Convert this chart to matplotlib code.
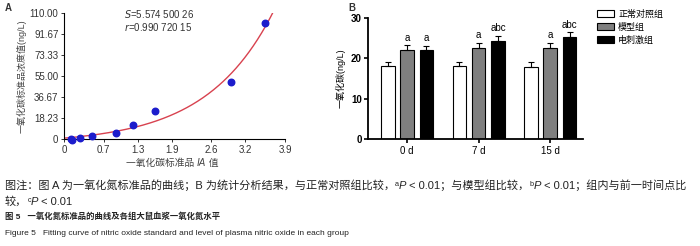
import numpy as np
import matplotlib
matplotlib.use("Agg")
import matplotlib.pyplot as plt

plt.rcParams['font.family'] = ['Liberation Sans', 'DejaVu Sans', 'Noto Sans CJK SC']

# Panel A: standard curve data
std_x = [0.12, 0.15, 0.28, 0.50, 0.92, 1.22, 1.60, 2.95, 3.55]
std_y = [0.0, -0.6, 1.0, 2.2, 5.5, 12.0, 24.5, 50.0, 101.0]
a_xticks = [0, 0.7, 1.3, 1.9, 2.6, 3.2, 3.9]
a_yticks = [0, 18.23, 36.67, 55.00, 73.33, 91.67, 110.00]
a_ylabels = ["0", "18.23", "36.67", "55.00", "73.33", "91.67", "110.00"]

# Panel B: group means / SD
days = ["0 d", "7 d", "15 d"]
groups = ["正常对照组", "模型组", "电刺激组"]
normal = [18.0, 18.0, 17.8]
model = [22.0, 22.6, 22.6]
estim = [22.0, 24.3, 25.4]
normal_sd = [1.2, 1.2, 1.2]
model_sd = [1.2, 1.3, 1.3]
estim_sd = [1.1, 1.3, 1.0]
model_sig = ["a", "a", "a"]
estim_sig = ["a", "abc", "abc"]

W, H = 700, 246
fig = plt.figure(figsize=(7.0, 2.46), dpi=100)
renderer = fig.canvas.get_renderer()


def rich(x, y, parts, fs, ha="left", color="#222222"):
    # draw a line of text made of pieces with different styles (x, y in pixels from top-left)
    texts = []
    widths = []
    for s, kw in parts:
        size = kw.get("size", fs)
        t = fig.text(0, 0, s, fontsize=size, style=kw.get("style", "normal"),
                     fontweight=kw.get("weight", "normal"), color=color, va="baseline")
        widths.append(t.get_window_extent(renderer).width)
        texts.append((t, kw.get("rise", 0)))
    total = sum(widths)
    px = x - total / 2 if ha == "center" else x
    for (t, rise), w in zip(texts, widths):
        t.set_position((px / W, 1 - (y - rise) / H))
        px += w


# ---- panel A
axA = fig.add_axes([0.0914, 0.435, 0.316, 0.512])
# exponential fit y = a*exp(b x) + c, least squares over a grid of b
xs = np.array(std_x); ys = np.array(std_y)
best = None
for b in np.linspace(0.5, 1.5, 1001):
    M = np.column_stack([np.exp(b * xs), np.ones_like(xs)])
    coef = np.linalg.lstsq(M, ys, rcond=None)[0]
    err = np.sum((M @ coef - ys) ** 2)
    if best is None or err < best[0]:
        best = (err, b, coef)
_, bb, cc = best
xx = np.linspace(0, 3.75, 200)
yy = cc[0] * np.exp(bb * xx) + cc[1]
axA.plot(xx, yy, color="#d8424f", lw=1.0, zorder=2)
axA.scatter(std_x, std_y, s=22, color="#1c1ccc", zorder=3, clip_on=False)
axA.set_xlim(0, 3.9)
axA.set_ylim(0, 110)
axA.set_xticks(a_xticks)
axA.set_xticklabels([("%g" % v) for v in a_xticks])
axA.set_yticks(a_yticks)
axA.set_yticklabels(a_ylabels)
for s in ["top", "right"]:
    axA.spines[s].set_visible(False)
axA.tick_params(labelsize=7, length=2.5, width=0.7, pad=1.5, colors="#333333")
axA.spines["left"].set_linewidth(0.8)
axA.spines["bottom"].set_linewidth(0.8)
axA.text(1.05, 106, "$S$=5.574 500 26", fontsize=7, color="#333333")
axA.text(1.05, 94, "$r$=0.990 720 15", fontsize=7, color="#333333")
rich(172, 166, [("一氧化碳标准品 ", {}), ("IA", {"style": "italic"}), (" 值", {})], 7,
     ha="center", color="#444444")
axA.set_ylabel("一氧化碳标准品浓度值(ng/L)", fontsize=6.5, color="#444444", labelpad=2)
fig.text(0.007, 0.955, "A", fontsize=7, fontweight="bold", color="#333333")

# ---- panel B
axB = fig.add_axes([0.526, 0.435, 0.307, 0.492])
x = np.arange(len(days))
w = 0.19
off = 0.27
specs = [(normal, normal_sd, "white", -off),
         (model, model_sd, "#7f7f7f", 0),
         (estim, estim_sd, "black", off)]
bars = []
for (vals, sd, col, o), g in zip(specs, groups):
    b = axB.bar(x + o, vals, w, color=col, edgecolor="black", linewidth=0.8, label=g,
                yerr=[np.zeros(len(sd)), sd], capsize=2.5,
                error_kw=dict(elinewidth=0.8, capthick=0.8, ecolor="black"))
    bars.append(b)
for i in range(len(days)):
    axB.text(x[i], model[i] + model_sd[i] + 0.6, model_sig[i], ha="center", va="bottom", fontsize=7)
    axB.text(x[i] + off, estim[i] + estim_sd[i] + 0.6, estim_sig[i], ha="center", va="bottom", fontsize=7)
axB.set_xlim(-0.545, 2.46)
axB.set_ylim(0, 30)
axB.set_yticks([0, 10, 20, 30])
axB.set_xticks(x)
axB.set_xticklabels(days)
for s in ["top", "right"]:
    axB.spines[s].set_visible(False)
axB.spines["left"].set_linewidth(1.3)
axB.spines["bottom"].set_linewidth(1.3)
axB.tick_params(axis="y", labelsize=7, length=3, width=1.2, pad=1.5)
axB.tick_params(axis="x", labelsize=7, length=3, width=1.2, pad=2)
for t in axB.get_yticklabels():
    t.set_fontweight("bold")
axB.set_ylabel("一氧化碳(ng/L)", fontsize=6.5, labelpad=4)
fig.text(0.497, 0.955, "B", fontsize=7, fontweight="bold", color="#333333")
axB.legend(handles=bars, loc="upper left", bbox_to_anchor=(1.05, 1.1), frameon=False,
           fontsize=6.5, handlelength=1.8, handleheight=0.8, labelspacing=0.45,
           handletextpad=0.5, borderaxespad=0)

# ---- caption
fs = 8.0
sup = {"size": 5.2, "rise": 3}
ital = {"style": "italic"}
rich(5, 189, [("图注：图 A 为一氧化氮标准品的曲线；B 为统计分析结果，与正常对照组比较，", {}),
              ("a", sup), ("P", ital), (" < 0.01；与模型组比较，", {}),
              ("b", sup), ("P", ital), (" < 0.01；组内与前一时间点比", {})], fs)
rich(5, 205, [("较，", {}), ("c", sup), ("P", ital), (" < 0.01", {})], fs)
rich(5, 219, [("图 5   一氧化氮标准品的曲线及各组大鼠血浆一氧化氮水平", {"weight": "bold"})], 6.0)
rich(5, 235, [("Figure 5   Fitting curve of nitric oxide standard and level of plasma nitric oxide in each group", {})], 6.0)

fig.savefig("out.png", dpi=100)
